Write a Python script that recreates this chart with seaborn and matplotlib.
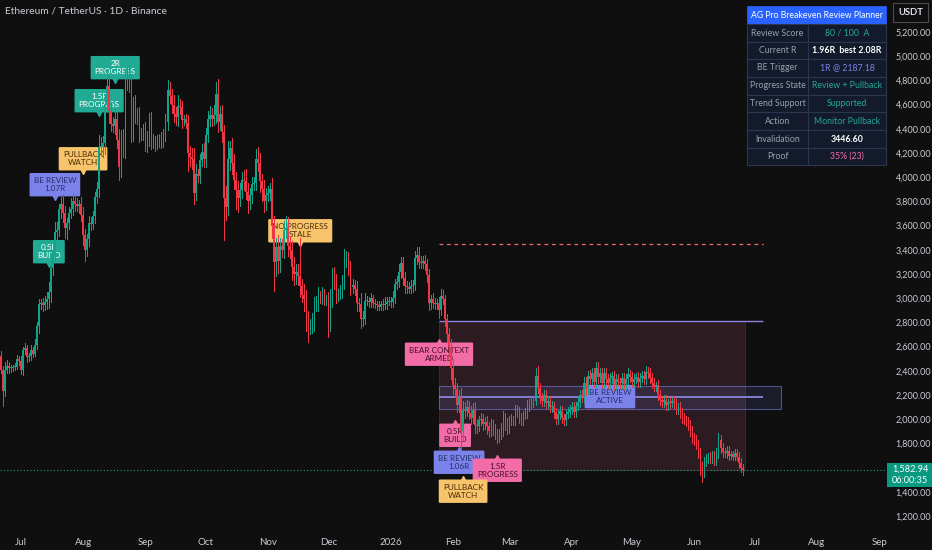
import numpy as np
import pandas as pd
import matplotlib
matplotlib.use("Agg")
import matplotlib.pyplot as plt
import matplotlib.dates as mdates
from matplotlib.patches import Rectangle
from matplotlib.transforms import offset_copy
import seaborn as sns

# daily closes, ETH/USDT 1D (Jun 21 2025 -> Jun 25 2026)
first_open = 2520
jun25 = [2410, 2230, 2410, 2440, 2420, 2420, 2430, 2435, 2500, 2485]
jul25 = [2405, 2570, 2590, 2510, 2520, 2570, 2540, 2610, 2770, 2950, 2960, 2940, 2970, 2990, 3050, 3250,
         3400, 3550, 3560, 3740, 3780, 3700, 3580, 3620, 3700, 3740, 3800, 3780, 3760, 3780, 3690]
aug25 = [3520, 3400, 3490, 3620, 3610, 3680, 3840, 3900, 4250, 4250, 4280, 4600, 4750, 4550, 4440, 4420,
         4480, 4310, 4080, 4340, 4230, 4820, 4780, 4760, 4380, 4600, 4510, 4500, 4360, 4370, 4390]
sep25 = [4300, 4320, 4450, 4300, 4300, 4270, 4310, 4300, 4310, 4350, 4460, 4720, 4670, 4600, 4520, 4500,
         4590, 4580, 4470, 4480, 4450, 4200, 4170, 4150, 3870, 4030, 4010, 4140, 4210, 4150]
oct25 = [4350, 4480, 4510, 4480, 4510, 4690, 4460, 4520, 4370, 3830, 3750, 4150, 4240, 4120, 3980, 3890,
         3830, 3890, 3980, 3970, 3880, 3800, 3850, 3940, 3950, 4150, 4120, 3970, 3900, 3800, 3850]
nov25 = [3870, 3900, 3600, 3300, 3420, 3310, 3430, 3400, 3560, 3580, 3430, 3400, 3260, 3200, 3220, 3180,
         3100, 3030, 2990, 2830, 2760, 2770, 2810, 2950, 2960, 3020, 3010, 3030, 2990, 2990]
dec25 = [2790, 3000, 3190, 3140, 3020, 3040, 3060, 3130, 3320, 3330, 3250, 3090, 3110, 3080, 2960, 2950,
         2830, 2830, 2980, 2980, 2970, 3000, 2960, 2950, 2940, 2930, 2950, 2940, 2950, 2970, 2970]
jan26 = [2970, 3000, 3120, 3130, 3220, 3290, 3170, 3100, 3090, 3080, 3100, 3110, 3330, 3360, 3300, 3290,
         3310, 3280, 3190, 2960, 2990, 2960, 2950, 2960, 2900, 3020, 2990, 2830, 2700, 2600, 2420]
feb26 = [2280, 2250, 2120, 2180, 1900, 2080, 2070, 2100, 2050, 2010, 2080, 1950, 1940, 1990, 2000, 1960,
         1980, 1940, 1900, 1950, 1920, 1880, 1850, 1880, 1920, 2010, 1960, 1930]
mar26 = [1990, 2000, 1990, 2080, 2060, 2010, 1990, 2030, 2050, 2110, 2130, 2140, 2150, 2360, 2260, 2180,
         2150, 2200, 2130, 2150, 2100, 2110, 2060, 2000, 2040, 2070, 2010, 1990, 2040, 2060, 2080]
apr26 = [2100, 2060, 2110, 2140, 2200, 2180, 2300, 2250, 2360, 2330, 2380, 2310, 2420, 2350, 2380, 2300,
         2380, 2330, 2300, 2340, 2360, 2280, 2330, 2310, 2300, 2340, 2290, 2330, 2370, 2350]
may26 = [2310, 2330, 2350, 2310, 2340, 2360, 2330, 2390, 2380, 2340, 2300, 2270, 2280, 2200, 2160, 2140,
         2160, 2120, 2140, 2130, 2150, 2130, 2080, 2100, 2050, 2010, 2000, 1980, 1950, 1900, 1850]
jun26 = [1830, 1790, 1720, 1600, 1560, 1650, 1670, 1690, 1680, 1700, 1660, 1720, 1830, 1760, 1730, 1720,
         1740, 1700, 1710, 1690, 1720, 1690, 1640, 1600, 1582.94]

# wick lengths above / below the candle body
hi_wick = [40, 30, 60, 50, 30, 25, 20, 30, 30, 25,
           40, 30, 40, 20, 25, 40, 30, 50, 30, 40, 30, 40, 50, 60, 80, 120, 60, 80, 70, 40, 60, 80, 60, 40, 50, 90, 60, 40, 50, 30, 60,
           60, 50, 40, 60, 50, 40, 40, 60, 100, 80, 60, 80, 120, 90, 70, 60, 80, 60, 90, 50, 60, 60, 80, 150, 90, 60, 80, 60, 80, 40, 50,
           70, 60, 80, 90, 60, 40, 40, 50, 60, 50, 60, 80, 70, 60, 80, 60, 90, 60, 50, 30, 40, 60, 60, 70, 90, 80, 40, 50, 60, 70,
           60, 70, 80, 60, 90, 100, 120, 70, 80, 60, 100, 150, 60, 80, 70, 60, 80, 60, 60, 80, 100, 70, 60, 60, 50, 80, 100, 80, 60, 80, 60,
           60, 50, 90, 80, 80, 100, 70, 60, 80, 100, 90, 80, 70, 80, 60, 60, 320, 60, 90, 80, 60, 60, 70, 60, 60, 70, 40, 60, 50, 40,
           60, 80, 60, 70, 60, 40, 50, 60, 90, 60, 50, 60, 50, 40, 60, 40, 90, 60, 60, 40, 30, 40, 30, 30, 30, 40, 30, 40, 60, 40, 40,
           40, 60, 40, 50, 60, 50, 50, 50, 40, 40, 50, 40, 60, 60, 60, 50, 40, 50, 40, 50, 40, 50, 40, 30, 50, 60, 50, 40, 40, 50, 60,
           80, 60, 50, 60, 80, 70, 60, 60, 50, 60, 50, 60, 50, 40, 50, 40, 40, 50, 40, 50, 40, 40, 40, 40, 50, 60, 40, 50,
           40, 40, 30, 40, 40, 40, 40, 40, 40, 50, 40, 40, 40, 60, 80, 40, 40, 40, 40, 40, 40, 40, 30, 30, 40, 40, 40, 30, 40, 40, 40,
           40, 40, 30, 40, 40, 40, 50, 50, 40, 50, 40, 40, 50, 50, 40, 40, 40, 40, 40, 40, 30, 40, 40, 40, 30, 40, 40, 40, 50, 40,
           40, 40, 30, 40, 40, 40, 40, 50, 40, 40, 40, 40, 30, 40, 40, 30, 40, 40, 30, 40, 30, 40, 40, 30, 40, 40, 40, 30, 40, 40, 40,
           40, 40, 40, 40, 50, 40, 40, 30, 40, 40, 40, 40, 60, 40, 40, 30, 40, 40, 30, 30, 30, 30, 40, 40, 30]
lo_wick = [30, 120, 40, 30, 40, 30, 20, 25, 20, 40,
           30, 40, 30, 40, 30, 30, 30, 20, 30, 60, 40, 50, 40, 60, 70, 80, 60, 90, 60, 50, 80, 70, 80, 90, 50, 40, 50, 60, 40, 60, 50,
           80, 90, 50, 60, 50, 40, 60, 50, 60, 70, 80, 90, 60, 100, 60, 50, 60, 70, 100, 80, 60, 70, 60, 60, 90, 80, 60, 60, 70, 50, 60,
           80, 90, 60, 70, 60, 50, 40, 50, 60, 60, 50, 70, 60, 70, 60, 70, 80, 60, 60, 40, 40, 150, 80, 80, 90, 60, 50, 60, 50, 70,
           70, 60, 60, 60, 50, 60, 90, 70, 80, 350, 100, 60, 90, 90, 80, 150, 120, 70, 60, 80, 60, 100, 60, 60, 50, 60, 70, 90, 100, 90, 70,
           50, 60, 100, 240, 120, 100, 90, 60, 70, 60, 80, 70, 110, 90, 80, 70, 90, 60, 100, 100, 120, 60, 60, 80, 60, 70, 50, 60, 50, 50,
           110, 60, 70, 60, 60, 40, 50, 60, 50, 60, 60, 60, 50, 50, 70, 60, 80, 60, 40, 40, 40, 40, 30, 30, 40, 30, 30, 40, 30, 40, 30,
           40, 40, 40, 40, 40, 50, 60, 60, 50, 40, 40, 50, 40, 50, 50, 40, 40, 50, 60, 60, 50, 40, 40, 40, 60, 40, 40, 60, 60, 80, 90,
           70, 70, 60, 60, 150, 70, 60, 40, 50, 50, 40, 60, 50, 40, 40, 50, 40, 60, 50, 40, 50, 40, 50, 40, 40, 60, 50, 50,
           40, 40, 40, 40, 40, 40, 40, 40, 30, 40, 40, 40, 40, 30, 40, 50, 40, 40, 40, 40, 40, 40, 50, 40, 40, 40, 40, 40, 40, 30, 40,
           40, 40, 40, 30, 40, 40, 40, 50, 40, 40, 40, 40, 40, 50, 40, 40, 40, 40, 40, 40, 40, 40, 40, 30, 40, 40, 40, 40, 40, 40,
           40, 40, 30, 40, 40, 30, 40, 40, 40, 40, 40, 40, 40, 40, 40, 40, 40, 40, 40, 40, 30, 40, 40, 40, 40, 40, 40, 40, 40, 40, 50,
           40, 40, 40, 60, 80, 40, 40, 30, 40, 40, 40, 40, 40, 40, 40, 30, 40, 40, 30, 30, 30, 30, 40, 40, 40]

last_price = 1582.94
be_trigger = 2187.18
invalidation = 3446.60
zone_top = 2812
band_lo, band_hi = 2084, 2274

month_starts = ["2025-07-01", "2025-08-01", "2025-09-01", "2025-10-01", "2025-11-01", "2025-12-01",
                "2026-01-01", "2026-02-01", "2026-03-01", "2026-04-01", "2026-05-01", "2026-06-01",
                "2026-07-01", "2026-08-01", "2026-09-01"]
month_labels = ["Jul", "Aug", "Sep", "Oct", "Nov", "Dec", "2026", "Feb", "Mar", "Apr", "May", "Jun",
                "Jul", "Aug", "Sep"]
price_ticks = [1200, 1400, 1800, 2000, 2200, 2400, 2600, 2800, 3000, 3200, 3400, 3600, 3800,
               4000, 4200, 4400, 4600, 4800, 5000, 5200]

GREEN, BLUE, ORANGE, PINK = "#22ab94", "#7b83ea", "#f7c46c", "#f26ca7"
signal_text = ["0.5R\nBUILD", "BE REVIEW\n1.07R", "PULLBACK\nWATCH", "1.5R\nPROGRESS", "2R\nPROGRESS",
               "NO PROGRESS\nSTALE", "BEAR CONTEXT\nARMED", "0.5R\nBUILD", "BE REVIEW\n1.06R",
               "1.5R\nPROGRESS", "PULLBACK\nWATCH", "BE REVIEW\nACTIVE"]
signal_date = ["2025-07-15", "2025-07-18", "2025-08-01", "2025-08-09", "2025-08-17", "2025-11-17",
               "2026-01-25", "2026-02-02", "2026-02-04", "2026-02-23", "2026-02-06", "2026-04-20"]
signal_price = [3258, 3812, 4026, 4506, 4779, 3431, 2663, 1993, 1770, 1704, 1531, 2187]
signal_side = ["down", "down", "down", "down", "down", "down", "up", "up", "up", "up", "up", "mid"]
signal_color = [GREEN, BLUE, ORANGE, GREEN, GREEN, ORANGE, PINK, PINK, BLUE, PINK, ORANGE, BLUE]

table_keys = ["Review Score", "Current R", "BE Trigger", "Progress State", "Trend Support", "Action",
              "Invalidation", "Proof"]
table_vals = ["80 / 100  A", "1.96R  best 2.08R", "1R @ 2187.18", "Review + Pullback", "Supported",
              "Monitor Pullback", "3446.60", "35% (23)"]
table_cols = ["#26a69a", "#ffffff", "#7b83ea", "#26a69a", "#26a69a", "#26a69a", "#ffffff", "#f26ca7"]

# ---- build OHLC
close = np.array(jun25 + jul25 + aug25 + sep25 + oct25 + nov25 + dec25 + jan26 + feb26 + mar26
                 + apr26 + may26 + jun26, dtype=float)
opn = np.concatenate([[first_open], close[:-1]])
high = np.maximum(opn, close) + np.array(hi_wick)
low = np.minimum(opn, close) - np.array(lo_wick)
dates = pd.date_range("2025-06-21", periods=len(close), freq="D")
df = pd.DataFrame({"date": dates, "open": opn, "high": high, "low": low, "close": close})
df["x"] = mdates.date2num(df["date"])
df["up"] = df["close"] >= df["open"]

sns.set_theme(style="dark")
plt.rcParams["font.family"] = ["Lato", "DejaVu Sans"]
BG = "#0f0f0f"
TXT = "#c9ccd4"

W, H = 932, 550
fig = plt.figure(figsize=(W / 100, H / 100), dpi=100, facecolor=BG)
ax = fig.add_axes([0, 1 - 528 / H, 886 / W, 528 / H])
ax.set_facecolor(BG)
for s in ax.spines.values():
    s.set_visible(False)
ax.grid(False)

x0 = df["x"].iloc[0]
ax.set_xlim(x0 - 0.3, x0 + 440.3)
ax.set_ylim(1101, 5464)

# ---- zone + levels
start = mdates.date2num(pd.Timestamp("2026-01-25"))
zone_end = df["x"].iloc[-1] + 1
line_end = start + 161
band_end = start + 170
ax.add_patch(Rectangle((start, last_price), zone_end - start, zone_top - last_price,
                       fc="#2c1c22", ec="#3d2e35", lw=0.6, zorder=1))
ax.add_patch(Rectangle((start, band_lo), band_end - start, band_hi - band_lo,
                       fc=(0.48, 0.51, 0.92, 0.13), ec=(0.48, 0.51, 0.92, 0.55), lw=0.8, zorder=2))
ax.hlines(zone_top, start, line_end, color="#8a84e0", lw=1.0, zorder=2)
ax.hlines(be_trigger, start, line_end, color="#8a84e0", lw=1.3, zorder=2)
ax.hlines(invalidation, start, line_end, color="#f0686e", lw=0.9, linestyles=(0, (3, 3)), zorder=2)
ax.axhline(last_price, color="#1e9c83", lw=0.8, linestyle=(0, (1, 2)), zorder=2)

# ---- signal labels (candles drawn over them)
for txt, d, p, side, fc in zip(signal_text, signal_date, signal_price, signal_side, signal_color):
    xd = mdates.date2num(pd.Timestamp(d))
    tc = "white" if fc == GREEN else ("#24306e" if fc == BLUE else ("#4a2a08" if fc == ORANGE else "#4a0f2a"))
    if side == "down":
        off, va, mk, mo = 5.5, "bottom", "v", 2.2
    elif side == "up":
        off, va, mk, mo = -5.5, "top", "^", -2.2
    else:
        off, va, mk, mo = 0, "center", None, 0
    ax.annotate(txt, (xd, p), xytext=(0, off), textcoords="offset points", ha="center", va=va,
                fontsize=5.9, color=tc, linespacing=1.2, zorder=3,
                bbox=dict(boxstyle="round,pad=0.5,rounding_size=0.15", fc=fc, ec="none"))
    if mk:
        tr = offset_copy(ax.transData, fig=fig, x=0, y=mo, units="points")
        ax.plot([xd], [p], marker=mk, ms=5, color=fc, transform=tr, zorder=3)

# ---- candles
col = np.where(df["up"], "#0fa58a", "#f23645")
ax.vlines(df["x"], df["low"], df["high"], colors=col, lw=0.7, zorder=4, antialiased=False)
body_lo = np.minimum(df["open"], df["close"])
body_h = np.maximum(np.abs(df["close"] - df["open"]), 9)
ax.bar(df["x"], body_h, bottom=body_lo, width=0.75, color=col, lw=0, zorder=5, antialiased=False)

# ---- axes ticks
ax.set_xticks([mdates.date2num(pd.Timestamp(m)) for m in month_starts])
ax.set_xticklabels(month_labels)
ax.set_yticks(price_ticks)
ax.set_yticklabels([f"{v:,.2f}" for v in price_ticks])
ax.yaxis.tick_right()
ax.tick_params(axis="x", length=0, pad=7, labelsize=7.0, colors=TXT)
ax.tick_params(axis="y", length=0, pad=7, labelsize=6.5, colors=TXT)
ax.set_xlabel("")
ax.set_ylabel("")


def P(x, y):
    return (x / W, 1 - y / H)


def frect(x1, y1, x2, y2, **kw):
    r = Rectangle(P(x1, y2), (x2 - x1) / W, (y2 - y1) / H, transform=fig.transFigure, **kw)
    fig.add_artist(r)


fig.text(*P(5, 11), "Ethereum / TetherUS · 1D · Binance", fontsize=7.4, color=TXT, va="center")

# USDT box
frect(893, 3, 928, 22, fc=BG, ec="#4a4d55", lw=0.8)
fig.text(*P(910.5, 12.5), "USDT", fontsize=6.8, color="#e0e3eb", ha="center", va="center",
         fontweight="bold")

# last price tag
frect(887, 463, 932, 487, fc="#089981", ec="none")
fig.text(*P(910, 469.5), "1,582.94", fontsize=6.6, color="white", ha="center", va="center")
fig.text(*P(910, 480.5), "06:00:35", fontsize=6.6, color="white", ha="center", va="center")

# ---- info table
tx1, tsplit, tx2 = 747, 808, 886
frect(tx1, 6, tx2, 24, fc="#2962ff", ec="#2962ff", lw=0.5)
fig.text(*P((tx1 + tx2) / 2, 15), "AG Pro Breakeven Review Planner", fontsize=6.2, color="white",
         ha="center", va="center")
row_edges = [24, 42, 59, 77, 95, 112, 130, 148, 165]
for k, (key, val, vc) in enumerate(zip(table_keys, table_vals, table_cols)):
    y1, y2 = row_edges[k], row_edges[k + 1]
    frect(tx1, y1, tsplit, y2, fc="#121a2b", ec="#2b3650", lw=0.8)
    frect(tsplit, y1, tx2, y2, fc="#121a2b", ec="#2b3650", lw=0.8)
    fig.text(*P((tx1 + tsplit) / 2, (y1 + y2) / 2), key, fontsize=6.3, color="#9aa0ad",
             ha="center", va="center")
    bold = "bold" if vc == "#ffffff" else "normal"
    fig.text(*P((tsplit + tx2) / 2, (y1 + y2) / 2), val, fontsize=6.3, color=vc,
             ha="center", va="center", fontweight=bold)

fig.savefig("out.png", dpi=100, facecolor=BG)
